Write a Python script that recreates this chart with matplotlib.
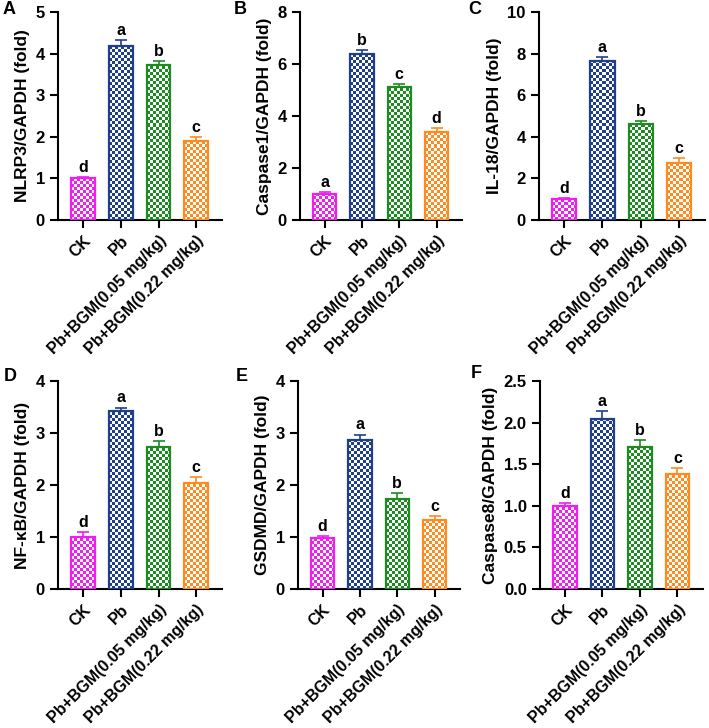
import numpy as np
import matplotlib
matplotlib.use("Agg")
import matplotlib.pyplot as plt

plt.rcParams['font.family'] = ['Liberation Sans', 'DejaVu Sans']
plt.rcParams['font.weight'] = 'bold'

groups = ["CK", "Pb", "Pb+BGM(0.05 mg/kg)", "Pb+BGM(0.22 mg/kg)"]
colors = ["#f01ef0", "#1f3f8a", "#1e8a22", "#ff8a1e"]

panel_labels = ["A", "B", "C", "D", "E", "F"]
ylabels = ["NLRP3/GAPDH (fold)", "Caspase1/GAPDH (fold)", "IL-18/GAPDH (fold)",
           "NF-\u03baB/GAPDH (fold)", "GSDMD/GAPDH (fold)", "Caspase8/GAPDH (fold)"]

nlrp3 = [1.0, 4.18, 3.73, 1.90]
nlrp3_err = [0.03, 0.15, 0.10, 0.10]
casp1 = [1.0, 6.40, 5.10, 3.40]
casp1_err = [0.07, 0.15, 0.12, 0.12]
il18 = [1.0, 7.65, 4.60, 2.72]
il18_err = [0.05, 0.20, 0.14, 0.24]
nfkb = [1.0, 3.42, 2.73, 2.03]
nfkb_err = [0.10, 0.07, 0.12, 0.12]
gsdmd = [0.98, 2.86, 1.73, 1.32]
gsdmd_err = [0.04, 0.11, 0.11, 0.08]
casp8 = [1.0, 2.04, 1.71, 1.38]
casp8_err = [0.03, 0.10, 0.08, 0.07]

letters_list = [["d", "a", "b", "c"], ["a", "b", "c", "d"], ["d", "a", "b", "c"],
                ["d", "a", "b", "c"], ["d", "a", "b", "c"], ["d", "a", "b", "c"]]
values = [nlrp3, casp1, il18, nfkb, gsdmd, casp8]
errors = [nlrp3_err, casp1_err, il18_err, nfkb_err, gsdmd_err, casp8_err]
ylims = [5, 8, 10, 4, 4, 2.5]
yticks = [np.arange(0, 6, 1), np.arange(0, 9, 2), np.arange(0, 11, 2),
          np.arange(0, 5, 1), np.arange(0, 5, 1), np.arange(0, 2.6, 0.5)]

W, H = 709, 728
fig = plt.figure(figsize=(W / 100, H / 100), dpi=100)

# axes boxes in pixels: (left x, top y, right x, bottom y)
boxes = [(58, 12, 222, 220), (300, 12, 462, 220), (539, 12, 705, 220),
         (58, 381, 222, 589), (298, 381, 460, 589), (540, 381, 703, 589)]
# panel letter positions in pixels (left x, centre y)
label_pos = [(3, 10), (234, 10), (468, 10), (4, 376), (236, 376), (471, 374)]

cell_px = 3.0
x = np.arange(4)
bar_w = 0.63

for i in range(6):
    l, t, r, b = boxes[i]
    ax = fig.add_axes([l / W, 1 - b / H, (r - l) / W, (b - t) / H])
    ax.set_xlim(-0.66, 3.68)
    ax.set_ylim(0, ylims[i])
    xr = 3.68 + 0.66
    dx = cell_px * xr / (r - l)
    dy = cell_px * ylims[i] / (b - t)

    for j in range(4):
        v = values[i][j]
        e = errors[i][j]
        c = colors[j]
        bar = ax.bar(x[j], v, width=bar_w, facecolor="none", edgecolor=c,
                     linewidth=1.6, zorder=3)[0]
        x0 = x[j] - bar_w / 2
        nx = int(np.ceil(bar_w / dx))
        ny = int(np.ceil(v / dy))
        ii, jj = np.meshgrid(np.arange(ny), np.arange(nx), indexing="ij")
        chk = (ii + jj) % 2
        rgb = np.array(matplotlib.colors.to_rgb(c))
        img = np.ones((ny, nx, 3))
        img[chk == 1] = rgb
        im = ax.imshow(img, extent=(x0, x0 + nx * dx, 0, ny * dy), origin="lower",
                       interpolation="nearest", aspect="auto", zorder=2)
        im.set_clip_path(bar)
        ax.errorbar(x[j], v, yerr=[[0], [e]], fmt="none", ecolor=c,
                    elinewidth=1.2, capsize=4, capthick=1.2, zorder=4)
        ax.annotate(letters_list[i][j], (x[j], v + e), xytext=(0, 1.5),
                    textcoords="offset points", ha="center", va="bottom",
                    fontsize=11.5, fontweight="bold")

    ax.set_xlim(-0.66, 3.68)
    ax.set_ylim(0, ylims[i])
    ax.set_yticks(yticks[i])
    if ylims[i] == 2.5:
        ax.set_yticklabels([f"{v:.1f}" for v in yticks[i]])
    ax.set_xticks(x)
    ax.set_xticklabels(groups, rotation=45, ha="right", rotation_mode="anchor")
    ax.tick_params(axis="both", width=1.5, length=6, labelsize=12)
    ax.tick_params(axis="x", labelsize=11.5)
    for lab in ax.get_xticklabels() + ax.get_yticklabels():
        lab.set_fontweight("bold")
    ax.spines["top"].set_visible(False)
    ax.spines["right"].set_visible(False)
    ax.spines["left"].set_linewidth(1.5)
    ax.spines["bottom"].set_linewidth(1.5)
    ax.set_ylabel(ylabels[i], fontsize=12.5, fontweight="bold", labelpad=4)
    px, py = label_pos[i]
    fig.text(px / W, 1 - py / H, panel_labels[i], fontsize=13,
             fontweight="bold", ha="left", va="center")

fig.savefig("out.png", dpi=100)
